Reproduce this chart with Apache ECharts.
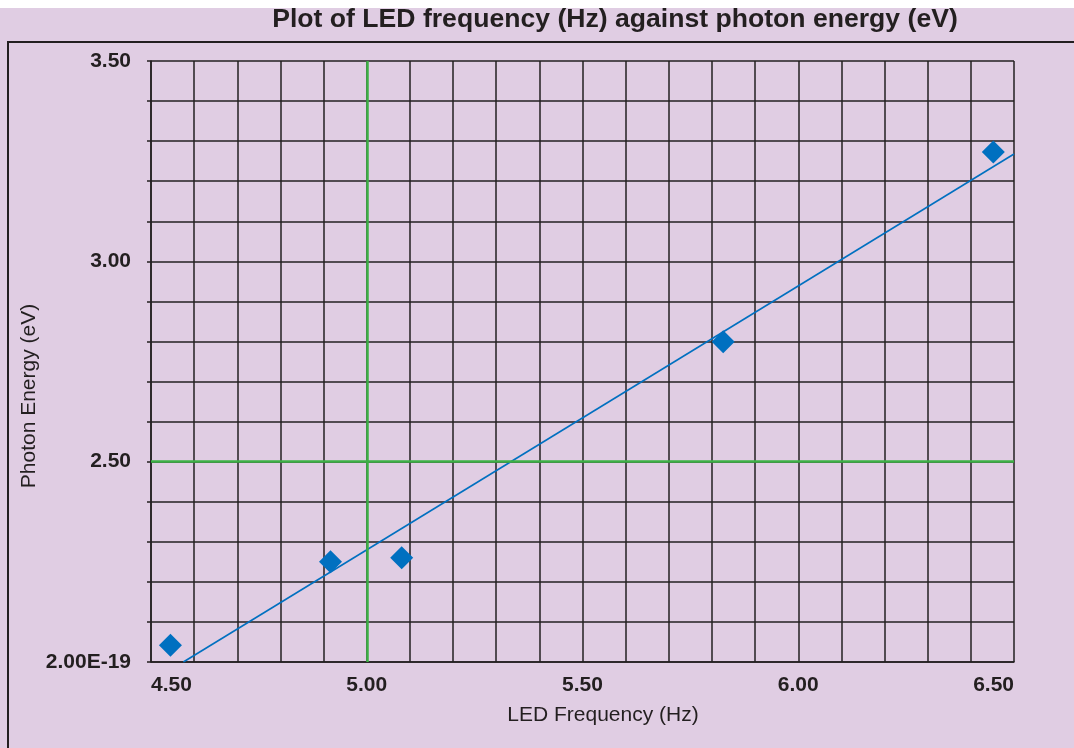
<!DOCTYPE html>
<html>
<head>
<meta charset="utf-8">
<script src="https://cdn.jsdelivr.net/npm/echarts@6/dist/echarts.min.js"></script>
<style>
  html, body { margin: 0; padding: 0; background: #fff; }
  #main { width: 1074px; height: 748px; }
</style>
</head>
<body>
<div id="main"></div>
<script>
// values
const ledFreq = [4.545, 4.916, 5.081, 5.826, 6.452];
const photonEnergy = [2.042, 2.250, 2.260, 2.799, 3.273];
// trend line end points, as drawn
const trendFreq = [4.575, 6.5];
const trendEnergy = [2.0, 3.268];
// green reference lines
const refFreq = [5.0];
const refEnergy = [2.5];
// tick labels
const xTickLabels = { 45: '4.50', 50: '5.00', 55: '5.50', 60: '6.00', 65: '6.50' };
const yTickLabels = { 20: '2.00E-19', 25: '2.50', 30: '3.00', 35: '3.50' };

const FONT = '"Liberation Sans", Arial, Helvetica, sans-serif';
const BG = '#e0cde3';
const INK = '#231f20';
const BLUE = '#0070c0';

const chart = echarts.init(document.getElementById('main'), null, { renderer: 'canvas' });

const option = {
  backgroundColor: '#fff',
  animation: false,
  graphic: [
    { type: 'rect', z: -10, shape: { x: 0, y: 8, width: 1074, height: 740 }, style: { fill: BG } },
    { type: 'rect', z: -9, shape: { x: 8, y: 42, width: 1100, height: 760 }, style: { fill: 'none', stroke: INK, lineWidth: 2 } },
    {
      type: 'text', x: 615, y: 20,
      style: { text: 'Plot of LED frequency (Hz) against photon energy (eV)', font: 'bold 26.6px ' + FONT, fill: INK, align: 'center', verticalAlign: 'middle' }
    },
    {
      type: 'text', x: 603, y: 715,
      style: { text: 'LED Frequency (Hz)', font: '21px ' + FONT, fill: INK, align: 'center', verticalAlign: 'middle' }
    },
    {
      type: 'text', x: 29, y: 396, rotation: Math.PI / 2,
      style: { text: 'Photon Energy (eV)', font: '21px ' + FONT, fill: INK, align: 'center', verticalAlign: 'middle' }
    }
  ],
  grid: { left: 151, top: 61, right: 60, bottom: 86, show: false },
  xAxis: {
    type: 'value', min: 4.5, max: 6.5, interval: 0.1,
    axisLine: { show: true, lineStyle: { color: INK, width: 1.5 } },
    axisTick: { show: false },
    splitLine: { show: true, lineStyle: { color: INK, width: 1.5 } },
    axisLabel: {
      margin: 13, color: INK, fontFamily: FONT, fontWeight: 'bold', fontSize: 21,
      alignMinLabel: 'left', alignMaxLabel: 'right',
      formatter: v => xTickLabels[Math.round(v * 10)] || ''
    }
  },
  yAxis: {
    type: 'value', min: 2.0, max: 3.5, interval: 0.1,
    axisLine: { show: true, lineStyle: { color: INK, width: 1.5 } },
    axisTick: { show: true, length: 4, lineStyle: { color: INK, width: 1.5 } },
    splitLine: { show: true, lineStyle: { color: INK, width: 1.5 } },
    axisLabel: {
      margin: 20, color: INK, fontFamily: FONT, fontWeight: 'bold', fontSize: 21,
      formatter: v => yTickLabels[Math.round(v * 10)] || ''
    }
  },
  series: [
    {
      type: 'line',
      data: [],
      markLine: {
        silent: true, symbol: 'none', label: { show: false },
        lineStyle: { color: '#3cb045', width: 2.5, type: 'solid' },
        data: [
          ...refFreq.map(v => ({ xAxis: v })),
          ...refEnergy.map(v => ({ yAxis: v }))
        ]
      }
    },
    {
      type: 'line',
      data: trendFreq.map((x, i) => [x, trendEnergy[i]]),
      showSymbol: false,
      lineStyle: { color: BLUE, width: 1.6 },
      z: 3
    },
    {
      type: 'scatter',
      symbol: 'diamond',
      symbolSize: 23,
      data: ledFreq.map((x, i) => [x, photonEnergy[i]]),
      itemStyle: { color: BLUE, opacity: 1 },
      z: 4
    }
  ]
};

chart.setOption(option);
</script>
</body>
</html>
